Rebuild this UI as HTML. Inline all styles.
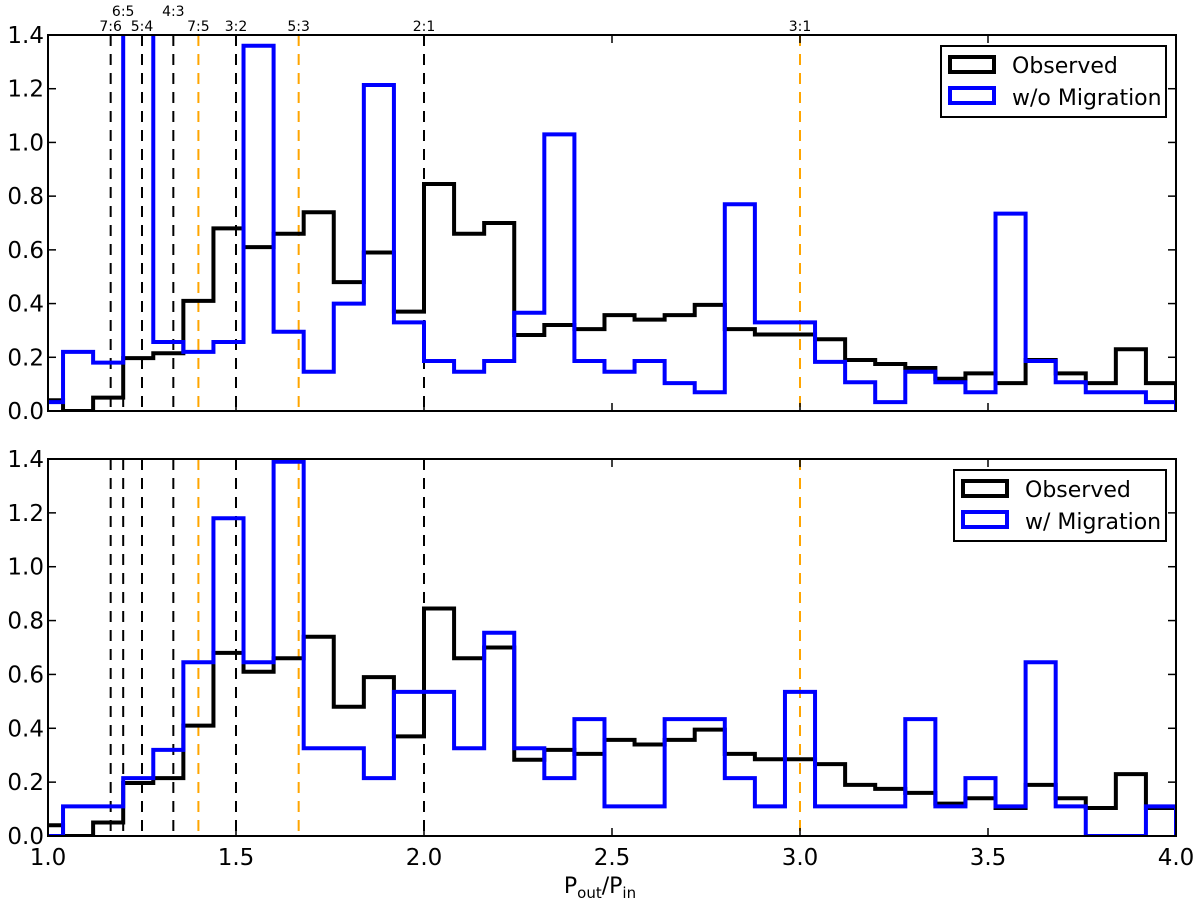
<!DOCTYPE html>
<html><head><meta charset="utf-8"><style>
html,body{margin:0;padding:0;background:#fff;}
svg{display:block;font-family:"DejaVu Sans","Liberation Sans",sans-serif;}
</style></head><body>
<svg id="chart" width="1200" height="904" viewBox="0 0 1200 904" xmlns="http://www.w3.org/2000/svg"></svg>
<script>
const binStart = 0.96;
const binWidth = 0.08;
const observed = [0.04,0,0.05,0.197,0.215,0.41,0.68,0.61,0.66,0.74,0.48,0.59,0.37,0.845,0.66,0.70,0.283,0.32,0.305,0.357,0.34,0.357,0.395,0.305,0.285,0.285,0.267,0.19,0.175,0.16,0.12,0.14,0.104,0.19,0.14,0.104,0.23,0.104];
const noMigration = [0.033,0.22,0.18,1.6,0.257,0.22,0.257,1.36,0.295,0.146,0.40,1.214,0.33,0.186,0.146,0.186,0.366,1.03,0.186,0.146,0.186,0.104,0.07,0.77,0.33,0.33,0.183,0.107,0.033,0.146,0.107,0.07,0.735,0.186,0.107,0.07,0.07,0.033];
const withMigration = [0,0.11,0.11,0.215,0.32,0.645,1.18,0.645,1.39,0.326,0.326,0.215,0.535,0.535,0.326,0.755,0.326,0.215,0.434,0.11,0.11,0.434,0.434,0.215,0.11,0.535,0.11,0.11,0.11,0.434,0.11,0.215,0.11,0.645,0.11,0,0,0.11];
const resLabels = ["7:6","6:5","5:4","4:3","7:5","3:2","5:3","2:1","3:1"];
const resValues = [7/6,6/5,5/4,4/3,7/5,3/2,5/3,2,3];
const resOrange = [false,false,false,false,true,false,true,false,true];
const yTicks = [0,0.2,0.4,0.6,0.8,1.0,1.2,1.4];
const yTickLabels = ["0.0","0.2","0.4","0.6","0.8","1.0","1.2","1.4"];
const xTicks = [1.0,1.5,2.0,2.5,3.0,3.5,4.0];
const xTickLabels = ["1.0","1.5","2.0","2.5","3.0","3.5","4.0"];

const NS="http://www.w3.org/2000/svg";
const svg=document.getElementById('chart');
const X0=48,X1=1176;
const xs=v=>X0+(v-1)/(3)*(X1-X0);
function mk(tag,attrs,parent){const e=document.createElementNS(NS,tag);for(const k in attrs)e.setAttribute(k,attrs[k]);(parent||svg).appendChild(e);return e;}

function panel(idx,top,bottom,blueData,blueLabel,showRes){
  const ys=v=>bottom-v/1.4*(bottom-top);
  const g=mk('g',{});
  
  
  const cid='clip'+idx;
  const cp=mk('clipPath',{id:cid},g);
  mk('rect',{x:X0,y:top,width:X1-X0,height:bottom-top},cp);
  resValues.forEach((r,i)=>{
    const l=mk('line',{x1:xs(r),x2:xs(r),y1:top,y2:bottom,stroke:resOrange[i]?'#ffa500':'#000','stroke-width':2,'stroke-dasharray':'11,8'},g);
    
    
    if(showRes){
      const high=(resLabels[i]==="6:5"||resLabels[i]==="4:3");
      const t=mk('text',{x:xs(r),y:high?16:31,'text-anchor':'middle','font-size':14,fill:'#000'},g);
      t.textContent=resLabels[i];
      
      
    }
  });
  function step(data,color,name){
    let d='';
    data.forEach((v,i)=>{
      const a=xs(binStart+i*binWidth), b=xs(binStart+(i+1)*binWidth);
      d+=(i===0?'M'+a+','+ys(0)+' L'+a+','+ys(v):' L'+a+','+ys(v))+' L'+b+','+ys(v);
    });
    d+=' L'+xs(binStart+data.length*binWidth)+','+ys(0);
    const p=mk('path',{d:d,fill:'none',stroke:color,'stroke-width':4,'stroke-linejoin':'miter','clip-path':'url(#'+cid+')'},g);
    
    
  }
  step(observed,'#000','observed-histogram');
  step(blueData,'#0000ff',idx===0?'without-migration-histogram':'with-migration-histogram');
  const fr=mk('rect',{x:X0,y:top,width:X1-X0,height:bottom-top,fill:'none',stroke:'#000','stroke-width':2},g);
  
  
  yTicks.forEach((v,i)=>{
    const y=ys(v);
    mk('line',{x1:X0,x2:X0+8,y1:y,y2:y,stroke:'#000','stroke-width':1.5},g);
    mk('line',{x1:X1-8,x2:X1,y1:y,y2:y,stroke:'#000','stroke-width':1.5},g);
    const t=mk('text',{x:X0-4,y:y+8,'text-anchor':'end','font-size':23,fill:'#000'},g);
    t.textContent=yTickLabels[i];
    
    
  });
  xTicks.forEach((v,i)=>{
    const x=xs(v);
    mk('line',{x1:x,x2:x,y1:bottom,y2:bottom-8,stroke:'#000','stroke-width':1.5},g);
    mk('line',{x1:x,x2:x,y1:top,y2:top+8,stroke:'#000','stroke-width':1.5},g);
    if(idx===1){
      const t=mk('text',{x:x,y:865,'text-anchor':'middle','font-size':23,fill:'#000'},g);
      t.textContent=xTickLabels[i];
      
      
    }
  });
  const lx=idx===0?941:954, ly=top+11;
  const lg=mk('g',{},g);
  
  
  mk('rect',{x:lx,y:ly,width:1166-lx,height:71,fill:'#fff',stroke:'#000','stroke-width':2},lg);
  const px=lx+9;
  mk('rect',{x:px,y:ly+11,width:44,height:15,fill:'none',stroke:'#000','stroke-width':4},lg);
  mk('rect',{x:px,y:ly+42,width:44,height:15,fill:'none',stroke:'#0000ff','stroke-width':4},lg);
  const t1=mk('text',{x:px+62,y:ly+27,'font-size':22,fill:'#000'},lg);t1.textContent='Observed';
  
  
  const t2=mk('text',{x:px+62,y:ly+59,'font-size':22,fill:'#000'},lg);t2.textContent=blueLabel;
  
  
}
panel(0,35,411,noMigration,'w/o Migration',true);
panel(1,459,836,withMigration,'w/ Migration',false);
const xl=mk('text',{x:600,y:893,'text-anchor':'middle','font-size':22,fill:'#000'});


xl.innerHTML='P<tspan font-size="15" dy="5">out</tspan><tspan dy="-5">/P</tspan><tspan font-size="15" dy="5">in</tspan>';
</script>
</body></html>
